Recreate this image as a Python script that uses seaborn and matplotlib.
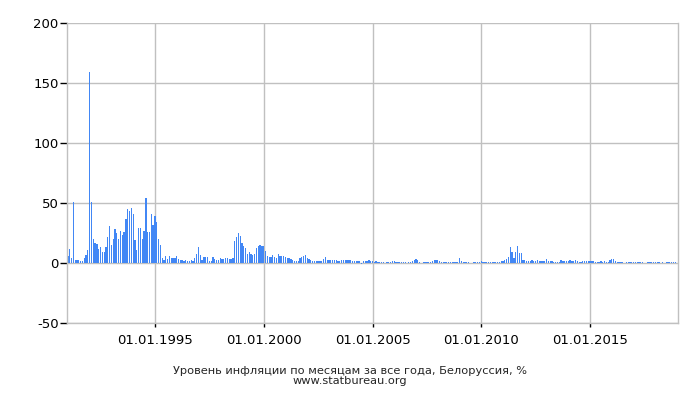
import numpy as np
import pandas as pd
import matplotlib
matplotlib.use("Agg")
import matplotlib.pyplot as plt
import seaborn as sns

# Monthly inflation, Belarus, %  (Jan..Dec per year)
y1991 = [5.6, 11.4, 3.9, 50.6, 2.8, 2.2, 2.2, 1.4, 1.4, 3.9, 6.4, 10.6]
y1992 = [158.9, 50.6, 19.7, 16.4, 15.6, 11.4, 13.0, 8.9, 8.9, 13.0, 21.4, 30.6]
y1993 = [14.7, 19.7, 28.0, 24.7, 19.7, 26.4, 23.0, 25.6, 36.4, 44.7, 43.0, 45.6]
y1994 = [40.6, 18.9, 10.6, 28.9, 28.9, 19.7, 26.4, 53.9, 25.6, 25.6, 40.6, 31.4]
y1995 = [38.9, 33.9, 19.9, 14.8, 4.0, 2.4, 5.7, 3.2, 5.7, 4.2, 4.2, 4.2]
y1996 = [5.8, 3.3, 2.5, 2.5, 1.7, 2.5, 1.7, 1.7, 2.5, 1.7, 4.2, 7.5]
y1997 = [13.3, 6.7, 2.5, 5.0, 5.0, 5.0, 1.7, 1.7, 5.0, 3.3, 2.5, 2.5]
y1998 = [4.2, 3.3, 3.3, 4.2, 4.2, 3.3, 3.3, 4.2, 18.3, 21.7, 25.0, 22.5]
y1999 = [16.7, 14.2, 12.5, 7.5, 9.2, 7.5, 6.7, 7.5, 12.5, 14.2, 15.0, 14.2]
y2000 = [14.2, 10.0, 5.8, 5.0, 5.0, 6.7, 5.0, 4.2, 7.5, 5.8, 5.8, 5.8]
y2001 = [5.0, 4.2, 4.2, 3.3, 2.5, 1.7, 1.7, 1.7, 4.2, 5.0, 5.8, 6.7]
y2002 = [4.2, 3.3, 2.5, 1.7, 1.7, 1.7, 1.7, 1.7, 1.7, 3.3, 5.0, 2.5]
y2003 = [2.5, 2.5, 2.5, 2.5, 2.5, 1.7, 1.7, 2.5, 2.5, 2.5, 2.5, 2.5]
y2004 = [2.5, 1.7, 1.7, 1.7, 1.7, 1.7, -0.5, 1.7, 1.7, 1.7, 2.5, 1.7]
y2005 = [1.7, 1.2, 1.7, 1.2, 1.2, 0.8, 0.8, -0.3, 1.2, 1.2, 1.2, 1.7]
y2006 = [1.7, 1.2, 0.8, 0.8, 0.8, 0.8, 1.2, -0.3, 0.8, 1.2, 2.0, 2.5]
y2007 = [3.0, 2.5, 1.2, -0.3, 0.8, 0.8, 1.2, 1.2, 1.2, 2.0, 2.5, 2.5]
y2008 = [2.5, 1.7, 1.2, 1.2, 1.2, 1.2, 1.2, 0.8, 1.2, 1.2, 1.2, 1.2]
y2009 = [4.2, 1.7, 1.2, 1.2, 0.8, 0.8, -0.3, 0.3, 1.2, 1.2, 1.2, 1.2]
y2010 = [1.7, 1.2, 1.2, 1.2, 1.2, 0.8, 0.8, 0.8, 1.2, 1.2, 1.2, 1.7]
y2011 = [1.7, 2.5, 3.3, 5.0, 13.3, 9.2, 4.2, 9.2, 14.2, 8.3, 8.3, 2.5]
y2012 = [2.5, 1.7, 1.7, 1.7, 2.5, 1.7, 1.7, 2.5, 1.7, 1.7, 1.7, 1.7]
y2013 = [3.0, 1.7, 1.7, 1.7, 1.2, 1.2, 1.2, 1.2, 2.5, 1.7, 1.7, 1.7]
y2014 = [1.7, 2.5, 1.7, 1.7, 2.5, 1.7, 1.2, 1.2, 1.7, 1.7, 1.7, 1.7]
y2015 = [1.7, 1.7, 1.7, 1.2, 1.2, 1.2, 1.7, 1.2, 1.7, 1.2, 1.2, 2.5]
y2016 = [3.3, 3.3, 1.7, 1.2, 1.2, 1.2, 0.8, -0.3, 0.8, 1.2, 1.2, 1.2]
y2017 = [1.2, 0.8, 0.8, 0.8, 0.8, 0.8, -0.3, -0.3, 0.8, 0.8, 0.8, 0.8]
y2018 = [0.8, 0.8, 0.8, -0.3, 0.8, -0.3, 0.8, 0.8, 0.8, 0.8, 0.8, 0.8]

years = list(range(1991, 2019))
tick_labels = ["01.01.1995", "01.01.2000", "01.01.2005", "01.01.2010", "01.01.2015"]
tick_years = [1995, 2000, 2005, 2010, 2015]
y_ticks = [-50, 0, 50, 100, 150, 200]
title_line1 = "Уровень инфляции по месяцам за все года, Белоруссия, %"
title_line2 = "www.statbureau.org"

series = [y1991, y1992, y1993, y1994, y1995, y1996, y1997, y1998, y1999, y2000,
          y2001, y2002, y2003, y2004, y2005, y2006, y2007, y2008, y2009, y2010,
          y2011, y2012, y2013, y2014, y2015, y2016, y2017, y2018]
values = [v for yr in series for v in yr]
month_idx = list(range(len(values)))
df = pd.DataFrame({"m": month_idx, "v": values})

sns.set_theme(style="white")
plt.rcParams["font.family"] = ["DejaVu Sans"]

fig = plt.figure(figsize=(7, 4), dpi=100)
ax = fig.add_axes([67 / 700, 1 - 323 / 400, (678 - 67) / 700, 300 / 400])

sns.barplot(data=df, x="m", y="v", native_scale=True, width=0.7,
            color="#4287f5", saturation=1, linewidth=0, errorbar=None, ax=ax)
for p in ax.patches:
    p.set_antialiased(False)

ax.set_xlim(-0.5, len(values) + 0.5)
ax.set_ylim(-50, 200)
ax.set_yticks(y_ticks)
ax.set_yticklabels([str(t) for t in y_ticks])
ax.set_xticks([(y - years[0]) * 12 for y in tick_years])
ax.set_xticklabels(tick_labels)
ax.set_xlabel("")
ax.set_ylabel("")

grid_c = "#c0c0c0"
ax.grid(True, color=grid_c, linewidth=1)
ax.set_axisbelow(True)
for s in ax.spines.values():
    s.set_color(grid_c)
    s.set_linewidth(1)
ax.spines["top"].set_visible(False)

ax.tick_params(axis="y", which="major", left=True, length=5, width=1,
               color="black", labelsize=9.5, pad=1, labelcolor="black")
ax.tick_params(axis="x", which="major", bottom=True, length=3, width=1,
               color="black", labelsize=9.5, pad=5, labelcolor="black")

fig.text(0.5, 1 - 371 / 400, title_line1, ha="center", va="center", fontsize=8.2)
fig.text(0.5, 1 - 381.5 / 400, title_line2, ha="center", va="center", fontsize=8.2)

fig.savefig("out.png", dpi=100)
